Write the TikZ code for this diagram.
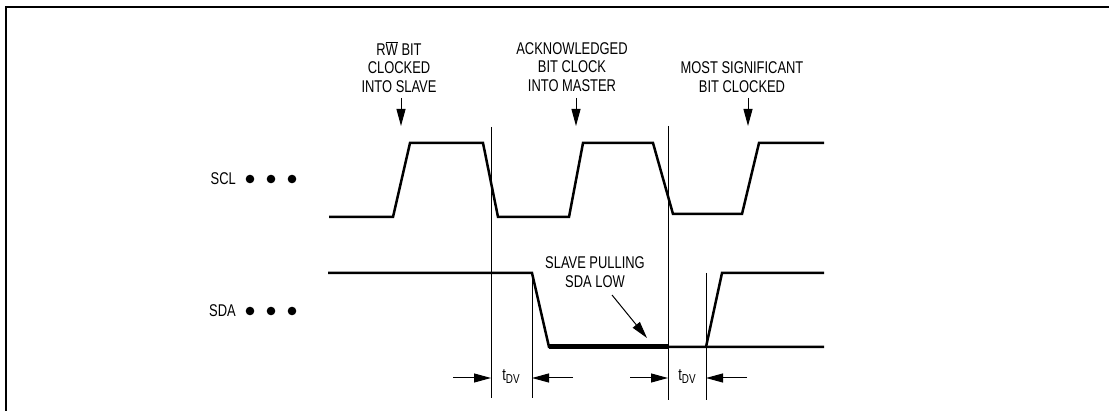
\documentclass[tikz,border=0pt]{standalone}
\usepackage{fontspec}
\setmainfont{Liberation Sans}[FakeStretch=0.76]
\usetikzlibrary{arrows.meta}
\newcommand{\tdv}{t\raisebox{-3pt}{\fontsize{13}{13}\selectfont DV}}
\begin{document}
\begin{tikzpicture}[x=1pt, y=-1pt,
      wave/.style={line width=2.5pt, line join=miter},
      guide/.style={line width=0.8pt},
      ptr/.style={line width=1pt, -{Triangle[length=17pt, width=9pt]}},
      lbl/.style={font=\fontsize{17}{18.5}\selectfont, align=center, inner sep=0pt},
      sig/.style={font=\fontsize{17}{18}\selectfont, anchor=east, inner sep=0pt}]
   \useasboundingbox (0,0) rectangle (1109,411);
   % frame
   \draw[line width=2pt] (6,411) -- (6,7) -- (1109,7);
   % signal names
   \node[sig] (scl) at (236,179) {SCL};
   \node[sig] (sda) at (236,311) {SDA};
   \foreach \x in {250, 271, 292} {
      \fill (\x,179) circle (4.3);
      \fill (\x,311) circle (4.3);
   }
   % SCL
   \draw[wave] (329,217) -- (393,217) -- (410,143) -- (483,143) -- (498,217)
      -- (569,217) -- (583,143) -- (653,143) -- (673,214) -- (742,214)
      -- (759,143) -- (824,143);
   % SDA
   \draw[wave] (328,273) -- (532,273) -- (549,347) -- (824,347);
   \draw[line width=5pt] (549,347) -- (668,347);
   \draw[wave] (706,347) -- (722,273) -- (824,273);
   % guide lines
   \coordinate (g1) at (491,378);
   \coordinate (g2) at (532,378);
   \coordinate (g3) at (668,378);
   \coordinate (g4) at (706,378);
   \draw[guide] (491,127) -- (491,398);
   \draw[guide] (532,273) -- (532,398);
   \draw[guide] (668,126) -- (668,400);
   \draw[guide] (706,273) -- (706,400);
   % t_DV
   \draw[ptr] (453,378) -- (g1);
   \draw[ptr] (573,378) -- (g2);
   \draw[ptr] (630,378) -- (g3);
   \draw[ptr] (747,378) -- (g4);
   \node[lbl] (tdv1) at (511,377) {\tdv};
   \node[lbl] (tdv2) at (687,377) {\tdv};
   % labels above SCL
   \node[lbl] (rw) at (399,67) {R$\overline{\hbox{W}}$ BIT\\CLOCKED\\INTO SLAVE};
   \node[lbl] (ack) at (572,67) {ACKNOWLEDGED\\BIT CLOCK\\INTO MASTER};
   \node[lbl] (msb) at (742,77) {MOST SIGNIFICANT\\BIT CLOCKED};
   \coordinate (rwtip) at (401,126);
   \coordinate (acktip) at (576,126);
   \coordinate (msbtip) at (748,126);
   \draw[ptr] (401,98) -- (rwtip);
   \draw[ptr] (576,98) -- (acktip);
   \draw[ptr] (748,98) -- (msbtip);
   % slave pulling
   \node[lbl] (pull) at (595,272) {SLAVE PULLING\\SDA LOW};
   \coordinate (pulltip) at (647,338);
   \draw[ptr] (612,295) -- (pulltip);
\end{tikzpicture}
\end{document}
